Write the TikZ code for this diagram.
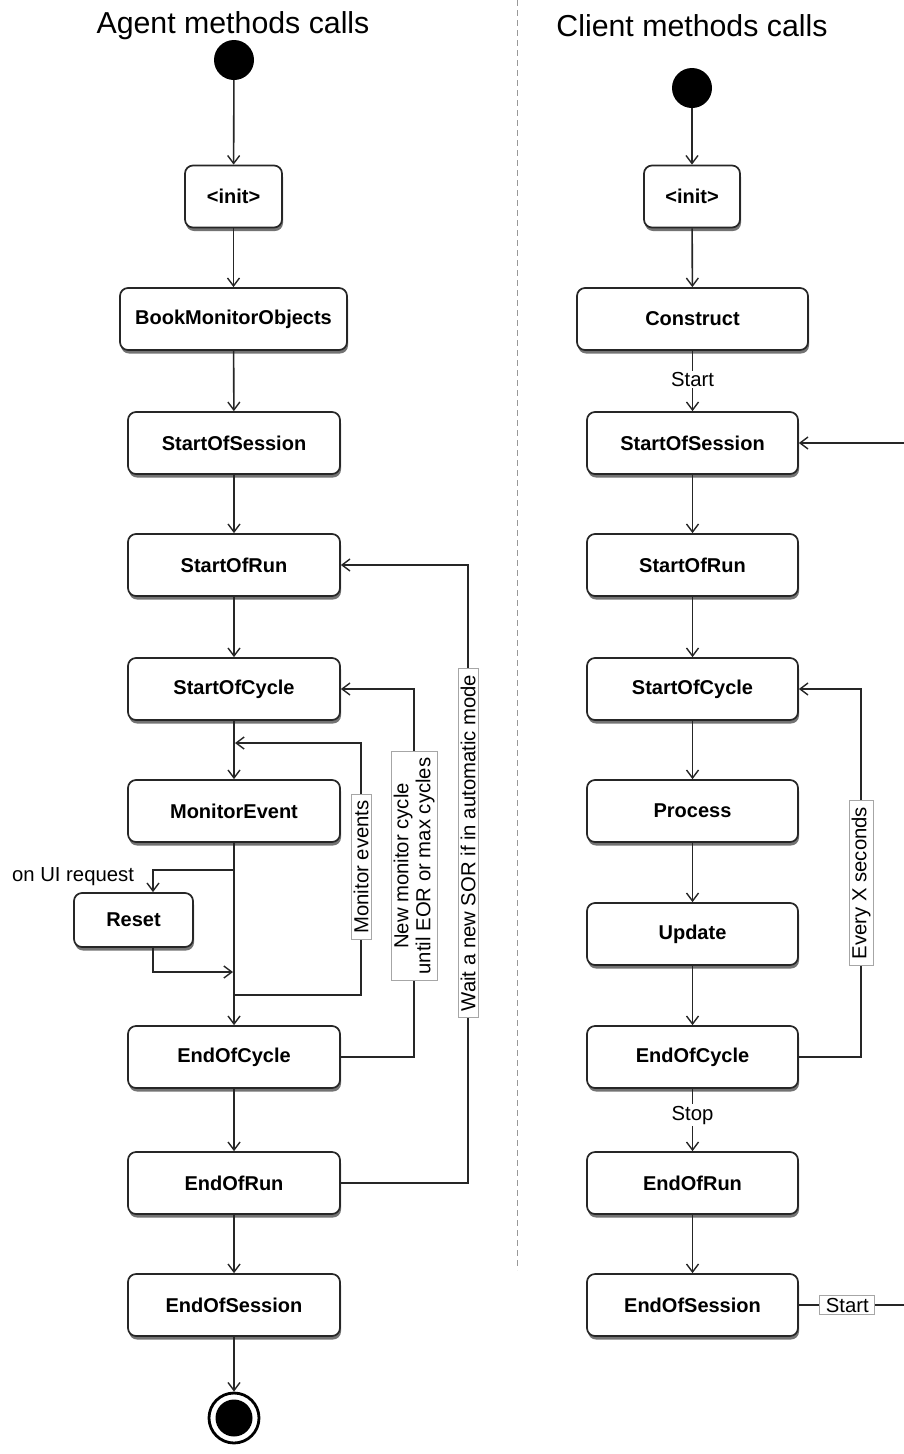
\documentclass[tikz,border=0pt]{standalone}
\usepackage{fontspec}
\setmainfont{Liberation Sans}
\usetikzlibrary{arrows.meta,shadows,positioning}
\newcommand{\nodefnt}{\fontsize{20pt}{23pt}\bfseries\selectfont}
\newcommand{\lblfnt}{\fontsize{20.3pt}{23pt}\selectfont}
\newcommand{\ttlfnt}{\fontsize{30.3pt}{35pt}\selectfont}
\tikzset{
  act/.style={draw=black!85, line width=1.7pt, fill=white, rounded corners=8pt,
    drop shadow={shadow xshift=1pt, shadow yshift=-3.5pt, opacity=0.55, fill=black},
    font=\nodefnt, minimum height=62pt, minimum width=212pt, inner sep=0pt},
  startdot/.style={circle, fill=black, minimum size=40pt, inner sep=0pt},
  enddot/.style={circle, draw=black, line width=2.8pt, fill=white, minimum size=50pt, inner sep=0pt},
  conn/.style={draw=black!85, line width=1.6pt, -{Straight Barb[length=8pt,width=12pt,line width=1.4pt]}},
  lblbox/.style={draw=black!35, fill=white, line width=0.8pt, inner xsep=6pt, inner ysep=2.5pt, font=\lblfnt},
  lbl/.style={fill=white, inner sep=1.5pt, font=\lblfnt},
  ttl/.style={font=\ttlfnt, inner sep=0pt}
}
\begin{document}
\begin{tikzpicture}[x=1pt,y=-1pt]
\useasboundingbox (0,0) rectangle (903,1454);
\fill[white] (0,0) rectangle (903,1454);
% titles
\node[ttl] (t1) at (233,26) {Agent methods calls};
\node[ttl] (t2) at (692,26) {Client methods calls};
% divider
\draw[black!40, line width=1pt, dash pattern=on 6pt off 4pt] (517,0) -- (517,1270);

% ---------- left column ----------
\node[startdot] (s1) at (234,60) {};
\node[act, minimum width=97pt] (init1) at (233.5,196.5) {<init>};
\node[act, minimum width=227pt] (bmo) at (233.5,319) {BookMonitorObjects};
\node[act] (sos1) at (234,443) {StartOfSession};
\node[act] (sor1) at (234,565) {StartOfRun};
\node[act] (soc1) at (234,689) {StartOfCycle};
\node[act] (me) at (234,811) {MonitorEvent};
\node[act, minimum width=119pt, minimum height=54pt] (reset) at (133.5,920) {Reset};
\node[act] (eoc1) at (234,1057) {EndOfCycle};
\node[act] (eor1) at (234,1183) {EndOfRun};
\node[act] (eos1) at (234,1305) {EndOfSession};
\node[enddot] (f1) at (234,1418) {};
\fill[black] (f1.center) circle (18.5pt);

\draw[conn] (s1) -- (init1);
\draw[conn] (init1) -- (bmo);
\draw[conn] (bmo) -- (sos1);
\draw[conn] (sos1) -- (sor1);
\draw[conn] (sor1) -- (soc1);
\draw[conn] (soc1) -- (me);
\draw[conn] (me) -- (eoc1);
\draw[conn] (eoc1) -- (eor1);
\draw[conn] (eor1) -- (eos1);
\draw[conn] (eos1) -- (f1);

% monitor events loop
\coordinate (m1) at (234,995);
\coordinate (m2) at (361,995);
\coordinate (m3) at (361,743);
\coordinate (m4) at (235,743);
\draw[conn] (m1) -- (m2) -- (m3) -- (m4);
\node[lblbox, rotate=90] (lme) at (361,867) {Monitor events};

% reset branch
\coordinate (r1) at (234,870);
\coordinate (r2) at (153,870);
\coordinate (r3) at (153,972);
\coordinate (r4) at (233,972);
\draw[conn] (r1) -- (r2) -- (reset.north -| r2);
\node[font=\lblfnt, inner sep=0pt] (lui) at (73,877) {on UI request};
\draw[conn] (reset.south -| r3) -- (r3) -- (r4);

% new monitor cycle loop
\coordinate (n1) at (414,1057);
\coordinate (n2) at (414,689);
\draw[conn] (eoc1.east) -- (n1) -- (n2) -- (soc1.east);
\node[lblbox, rotate=90, align=center, font=\fontsize{20.3pt}{22pt}\selectfont] (lnm) at (414,866) {New monitor cycle\\until EOR or max cycles};

% wait SOR loop
\coordinate (w1) at (468,1183);
\coordinate (w2) at (468,565);
\draw[conn] (eor1.east) -- (w1) -- (w2) -- (sor1.east);
\node[lblbox, rotate=90] (lws) at (468,843) {Wait a new SOR if in automatic mode};

% ---------- right column ----------
\node[startdot] (s2) at (692,88) {};
\node[act, minimum width=96pt] (init2) at (692,196.5) {<init>};
\node[act, minimum width=231pt] (con) at (692.5,319) {Construct};
\node[act, minimum width=211pt] (sos2) at (692.5,443) {StartOfSession};
\node[act, minimum width=211pt] (sor2) at (692.5,565) {StartOfRun};
\node[act, minimum width=211pt] (soc2) at (692.5,689) {StartOfCycle};
\node[act, minimum width=211pt] (proc) at (692.5,811) {Process};
\node[act, minimum width=211pt] (upd) at (692.5,934) {Update};
\node[act, minimum width=211pt] (eoc2) at (692.5,1057) {EndOfCycle};
\node[act, minimum width=211pt] (eor2) at (692.5,1183) {EndOfRun};
\node[act, minimum width=211pt] (eos2) at (692.5,1305) {EndOfSession};

\draw[conn] (s2) -- (init2);
\draw[conn] (init2) -- (con);
\draw[conn] (con) -- node[lbl, pos=0.47] (lst) {Start} (sos2);
\draw[conn] (sos2) -- (sor2);
\draw[conn] (sor2) -- (soc2);
\draw[conn] (soc2) -- (proc);
\draw[conn] (proc) -- (upd);
\draw[conn] (upd) -- (eoc2);
\draw[conn] (eoc2) -- node[lbl, pos=0.42] (lsp) {Stop} (eor2);
\draw[conn] (eor2) -- (eos2);

% every X seconds loop
\coordinate (e1) at (861,1057);
\coordinate (e2) at (861,689);
\draw[conn] (eoc2.east) -- (e1) -- (e2) -- (soc2.east);
\node[lblbox, rotate=90] (lex) at (861,883) {Every X seconds};

% restart loop (runs off the right edge)
\coordinate (x1) at (920,1305);
\coordinate (x2) at (920,443);
\draw[conn] (eos2.east) -- node[lblbox, pos=0.40] (lst2) {Start} (x1) -- (x2) -- (sos2.east);
\end{tikzpicture}
\end{document}
